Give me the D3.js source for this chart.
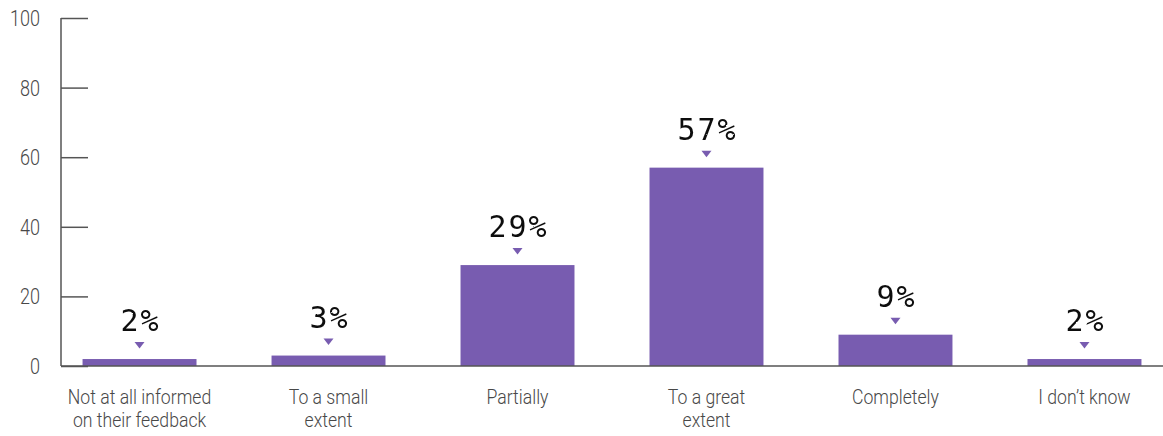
<!DOCTYPE html>
<html>
<head>
<meta charset="utf-8">
<script src="https://cdn.jsdelivr.net/npm/d3@7"></script>
<style>
  html, body { margin: 0; padding: 0; background: #fff; }
  svg { display: block; }
  .tick-label, .cat-label { font-family: "Roboto", sans-serif; font-weight: 300; fill: #484848; }
  .val-label { font-family: "DejaVu Sans Mono", monospace; fill: #111; }
</style>
</head>
<body>
<svg id="chart" width="1163" height="436">
  <defs>
    <!-- pencil-like roughness for the value labels -->
    <filter id="rough" x="-10%" y="-20%" width="120%" height="140%">
      <feTurbulence type="fractalNoise" baseFrequency="0.9" numOctaves="2" seed="3" result="noise"/>
      <feDisplacementMap in="SourceGraphic" in2="noise" scale="1.6" xChannelSelector="R" yChannelSelector="G"/>
    </filter>
  </defs>
</svg>
<script>
// Share of respondents by how well they were informed on their feedback
const categories = [
  ["Not at all informed", "on their feedback"],
  ["To a small", "extent"],
  ["Partially"],
  ["To a great", "extent"],
  ["Completely"],
  ["I don\u2019t know"]
];
const values = [2, 3, 29, 57, 9, 2];
const yTicks = [0, 20, 40, 60, 80, 100];

const svg = d3.select("#chart");
const width = 1163;
const axisX = 61;
const y0 = 366, y100 = 18;
const barColor = "#785cb0";
const axisColor = "#555";

const x = d3.scaleBand()
  .domain(d3.range(categories.length))
  .range([axisX, width])
  .paddingInner(0.397)
  .paddingOuter(0.114);

const y = d3.scaleLinear().domain([0, 100]).range([y0, y100]);

// Narrow the light sans text horizontally to a condensed look
function condense(sel, f) {
  sel.each(function() {
    const len = this.getComputedTextLength();
    d3.select(this).attr("textLength", len * f).attr("lengthAdjust", "spacingAndGlyphs");
  });
}

// Y axis: vertical line with inward ticks
const yAxis = svg.append("g").attr("transform", `translate(${axisX},0)`)
  .call(d3.axisRight(y).tickValues(yTicks).tickSize(27).tickFormat(""));
yAxis.select(".domain").remove();
yAxis.selectAll(".tick line").attr("stroke", axisColor).attr("stroke-width", 1.5);
svg.append("line")
  .attr("x1", axisX).attr("x2", axisX)
  .attr("y1", y(100)).attr("y2", y(0))
  .attr("stroke", axisColor).attr("stroke-width", 1.5);

svg.selectAll(".tick-label").data(yTicks).join("text")
  .attr("class", "tick-label")
  .attr("x", 40)
  .attr("y", d => y(d))
  .attr("dy", "0.36em")
  .attr("text-anchor", "end")
  .attr("font-size", 22)
  .text(d => d)
  .call(condense, 0.82);

// Bars
svg.selectAll(".bar").data(values).join("rect")
  .attr("class", "bar")
  .attr("x", (d, i) => x(i))
  .attr("width", x.bandwidth())
  .attr("y", d => y(d))
  .attr("height", d => y(0) - y(d))
  .attr("fill", barColor);

// Baseline
svg.append("line")
  .attr("x1", axisX).attr("x2", width)
  .attr("y1", y(0)).attr("y2", y(0))
  .attr("stroke", axisColor).attr("stroke-width", 1.5);

// Pointer triangles above bars
const cx = i => x(i) + x.bandwidth() / 2;
svg.selectAll(".pointer").data(values).join("path")
  .attr("class", "pointer")
  .attr("d", (d, i) => {
    const t = y(d) - 17, c = cx(i);
    return `M${c - 5},${t} L${c + 5},${t} L${c},${t + 6.5} Z`;
  })
  .attr("fill", barColor);

// Value labels
svg.selectAll(".val-label").data(values).join("text")
  .attr("class", "val-label")
  .attr("x", (d, i) => cx(i) + 1)
  .attr("y", d => y(d) - 28)
  .attr("text-anchor", "middle")
  .attr("font-size", 30)
  .attr("letter-spacing", 2)
  .attr("filter", "url(#rough)")
  .text(d => d + "%");

// Category labels
const cat = svg.selectAll(".cat-label").data(categories).join("text")
  .attr("class", "cat-label")
  .attr("text-anchor", "middle")
  .attr("font-size", 21);
cat.each(function(lines, i) {
  const t = d3.select(this);
  lines.forEach((ln, k) => {
    t.append("tspan")
      .attr("x", cx(i))
      .attr("y", 404 + k * 23)
      .text(ln);
  });
});
cat.selectAll("tspan").call(condense, 0.84);
</script>
</body>
</html>
